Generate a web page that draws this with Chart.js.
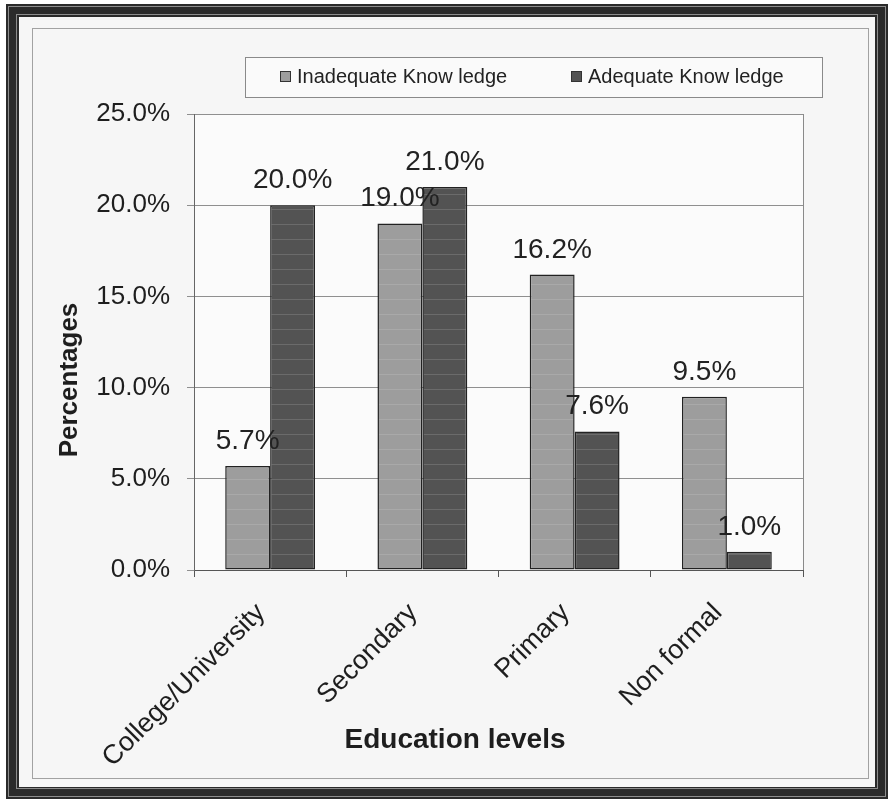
<!DOCTYPE html>
<html>
<head>
<meta charset="utf-8">
<script src="https://cdn.jsdelivr.net/npm/chart.js@4.4.1/dist/chart.umd.min.js"></script>
<style>
  html, body { margin: 0; padding: 0; background: #fff; }
  #page { position: relative; width: 888px; height: 799px; overflow: hidden; }
  .frame { position: absolute; left: 6px; top: 4px; width: 882px; height: 795px; background: #2a2a2a; }
  .line1 { position: absolute; left: 2px; top: 2px; right: 2px; bottom: 2px; border: 1px solid #8c8c8c; }
  .line2 { position: absolute; left: 10px; top: 10px; right: 10px; bottom: 10px; border: 1px solid #8c8c8c; }
  .inner { position: absolute; left: 13px; top: 13px; right: 13px; bottom: 12px; background: #f6f6f6; }
  .box { position: absolute; left: 32px; top: 28px; width: 835px; height: 749px; border: 1px solid #a2a2a2; }
  canvas { position: absolute; left: 0; top: 0; }
</style>
</head>
<body>
<div id="page">
  <div class="frame"><div class="line1"></div><div class="line2"></div><div class="inner"></div></div>
  <div class="box"></div>
  <canvas id="chart" width="888" height="799"></canvas>
</div>
<script>
const categories = ["College/University", "Secondary", "Primary", "Non formal"];
const inadequate = [5.7, 19.0, 16.2, 9.5];
const adequate = [20.0, 21.0, 7.6, 1.0];
const seriesNames = ["Inadequate Know ledge", "Adequate Know ledge"];
const yTicks = [0, 5, 10, 15, 20, 25];

const FONT = "'Liberation Sans', Arial, sans-serif";

// striped fill like the scanned excel bars
function stripes(base, line) {
  const c = document.createElement("canvas");
  c.width = 8;
  c.height = 15;
  const g = c.getContext("2d");
  g.fillStyle = base;
  g.fillRect(0, 0, 8, 15);
  g.fillStyle = line;
  g.fillRect(0, 14, 8, 1);
  return g.createPattern(c, "repeat");
}

const ctx = document.getElementById("chart").getContext("2d");
const lightFill = stripes("#9d9d9d", "#a9a9a9");
const darkFill = stripes("#535353", "#6b6b6b");
const swatches = ["#9d9d9d", "#535353"];

const extras = {
  id: "extras",
  beforeDraw(chart) {
    const a = chart.chartArea;
    const c = chart.ctx;
    c.save();
    c.fillStyle = "#fbfbfb";
    c.fillRect(a.left, a.top, a.right - a.left, a.bottom - a.top);
    c.restore();
  },
  afterDatasetsDraw(chart) {
    const c = chart.ctx;
    c.save();
    c.font = "28px " + FONT;
    c.fillStyle = "#222";
    c.textAlign = "center";
    c.textBaseline = "alphabetic";
    chart.data.datasets.forEach((ds, i) => {
      chart.getDatasetMeta(i).data.forEach((bar, j) => {
        c.fillText(ds.data[j].toFixed(1) + "%", bar.x, bar.y - 17);
      });
    });
    c.restore();
  },
  afterDraw(chart) {
    const c = chart.ctx;
    const a = chart.chartArea;
    c.save();
    // plot area right edge
    c.strokeStyle = "#8a8a8a";
    c.lineWidth = 1;
    c.beginPath();
    c.moveTo(Math.round(a.right) + 0.5, a.top);
    c.lineTo(Math.round(a.right) + 0.5, a.bottom);
    c.stroke();

    // axis titles
    c.fillStyle = "#1e1e1e";
    c.font = "bold 28px " + FONT;
    c.textAlign = "center";
    c.textBaseline = "alphabetic";
    c.fillText("Education levels", 455, 748);
    c.font = "bold 26px " + FONT;
    c.translate(77, 380);
    c.rotate(-Math.PI / 2);
    c.fillText("Percentages", 0, 0);
    c.setTransform(1, 0, 0, 1, 0, 0);

    // legend box
    c.fillStyle = "#fafafa";
    c.fillRect(245, 57, 577, 40);
    c.strokeStyle = "#8a8a8a";
    c.strokeRect(245.5, 57.5, 577, 40);
    c.font = "20px " + FONT;
    c.textAlign = "left";
    const lx = [280, 571];
    seriesNames.forEach((name, i) => {
      c.fillStyle = swatches[i];
      c.fillRect(lx[i], 71, 11, 11);
      c.strokeStyle = "#333";
      c.strokeRect(lx[i] + 0.5, 71.5, 10, 10);
      c.fillStyle = "#222";
      c.fillText(name, lx[i] + 17, 83);
    });
    c.restore();
  }
};

new Chart(ctx, {
  type: "bar",
  data: {
    labels: categories,
    datasets: [
      {
        label: seriesNames[0],
        data: inadequate,
        backgroundColor: lightFill,
        borderColor: "#222",
        borderWidth: 1.5,
        borderSkipped: false,
        categoryPercentage: 0.59,
        barPercentage: 1.0,
      },
      {
        label: seriesNames[1],
        data: adequate,
        backgroundColor: darkFill,
        borderColor: "#222",
        borderWidth: 1.5,
        borderSkipped: false,
        categoryPercentage: 0.59,
        barPercentage: 1.0,
      },
    ],
  },
  options: {
    responsive: false,
    animation: false,
    layout: { padding: { left: 40, top: 114, right: 85, bottom: 20 } },
    plugins: {
      legend: { display: false },
      tooltip: { enabled: false },
    },
    scales: {
      x: {
        offset: true,
        grid: {
          offset: true,
          drawOnChartArea: false,
          drawTicks: true,
          tickLength: 7,
          color: "#555",
        },
        border: { color: "#555", width: 1 },
        ticks: {
          font: { family: FONT, size: 27 },
          color: "#1e1e1e",
          minRotation: 45,
          maxRotation: 45,
          padding: 20,
          labelOffset: -9,
        },
        afterFit: (scale) => {
          scale.height = 209;
        },
      },
      y: {
        min: 0,
        max: 25,
        afterBuildTicks: (scale) => {
          scale.ticks = yTicks.map((v) => ({ value: v }));
        },
        grid: {
          color: "#8f8f8f",
          tickLength: 7,
        },
        border: { color: "#666", width: 1 },
        ticks: {
          font: { family: FONT, size: 26 },
          color: "#1e1e1e",
          padding: 17,
          callback: (v) => v.toFixed(1) + "%",
        },
        afterFit: (scale) => {
          scale.width = 154;
        },
      },
    },
  },
  plugins: [extras],
});
</script>
</body>
</html>
